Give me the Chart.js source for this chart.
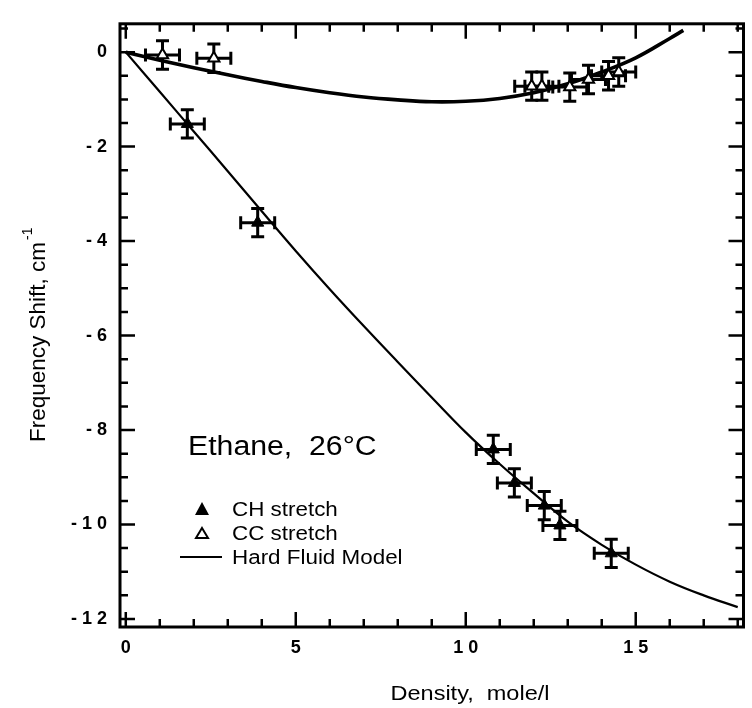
<!DOCTYPE html>
<html>
<head>
<meta charset="utf-8">
<script src="https://cdn.jsdelivr.net/npm/chart.js@4.4.7/dist/chart.umd.min.js"></script>
<style>
  html, body { margin: 0; padding: 0; background: #fff; }
  #wrap { width: 752px; height: 708px; }
</style>
</head>
<body>
<div id="wrap"><canvas id="chart" width="752" height="708"></canvas></div>
<script>
// ---- values ----
// CH stretch (filled triangles)
const chDensity = [1.81, 3.88, 10.81, 11.43, 12.31, 12.77, 14.28];
const chShift = [-1.52, -3.61, -8.41, -9.12, -9.60, -10.02, -10.61];
const chDensityErr = [0.5, 0.5, 0.5, 0.5, 0.5, 0.5, 0.5];
const chShiftErr = [0.3, 0.3, 0.3, 0.3, 0.3, 0.3, 0.3];

// CC stretch (open triangles)
const ccDensity = [1.08, 2.59, 11.94, 12.24, 13.06, 13.61, 14.2, 14.5];
const ccShift = [-0.06, -0.13, -0.72, -0.72, -0.74, -0.58, -0.5, -0.42];
const ccDensityErr = [0.5, 0.5, 0.5, 0.5, 0.5, 0.5, 0.5, 0.5];
const ccShiftErr = [0.3, 0.3, 0.3, 0.3, 0.3, 0.3, 0.3, 0.3];

// Hard fluid model curves
const chModelDensity = [0, 1, 2, 3, 4, 5, 6, 7, 8, 9, 10, 11, 12, 13, 14, 15, 16, 17, 18];
const chModelShift = [0, -0.84, -1.68, -2.52, -3.37, -4.21, -5.02, -5.80, -6.56, -7.31, -8.05, -8.72, -9.34, -9.94, -10.43, -10.85, -11.21, -11.50, -11.75];
const ccModelDensity = [0, 1, 2, 3, 4, 5, 6, 7, 8, 9, 10, 11, 12, 13, 14, 15, 16, 16.4];
const ccModelShift = [0, -0.17, -0.33, -0.48, -0.62, -0.75, -0.86, -0.95, -1.01, -1.05, -1.04, -0.98, -0.86, -0.67, -0.42, -0.12, 0.29, 0.46];

// axes
const xTicks = [0, 5, 10, 15];
const yTicks = [0, -2, -4, -6, -8, -10, -12];
const xRange = [-0.17, 18.17];
const yRange = [-12.17, 0.6];

const FONT = "'Liberation Sans', Arial, Helvetica, sans-serif";
const STRETCH = 1.12;

function toPoints(xs, ys) {
  return xs.map((v, i) => ({ x: v, y: ys[i] }));
}

function spaced(v) {
  // the figure prints "1 0", "- 1 2" etc.
  const s = String(Math.abs(v)).split('').join(' ');
  return v < 0 ? '- ' + s : s;
}

function drawText(ctx, text, x, y, font, align) {
  ctx.save();
  ctx.font = font;
  ctx.textAlign = align || 'left';
  ctx.textBaseline = 'alphabetic';
  ctx.translate(x, y);
  ctx.scale(STRETCH, 1);
  ctx.fillText(text, 0, 0);
  ctx.restore();
}

// box with inward ticks on all four sides
const framePlugin = {
  id: 'frame',
  beforeDatasetsDraw(chart) {
    const { ctx, chartArea: a, scales: { x, y } } = chart;
    ctx.save();
    ctx.strokeStyle = '#000';
    ctx.lineWidth = 2.5;
    ctx.beginPath();
    for (let v = 0; v <= 18; v += 1) {
      const px = x.getPixelForValue(v);
      const len = v % 5 === 0 ? 15 : 8;
      ctx.moveTo(px, a.bottom); ctx.lineTo(px, a.bottom - len);
      ctx.moveTo(px, a.top); ctx.lineTo(px, a.top + len);
    }
    for (let v = -12; v <= 0.5; v += 0.5) {
      const py = y.getPixelForValue(v);
      const len = v % 2 === 0 ? 15 : 8;
      ctx.moveTo(a.left, py); ctx.lineTo(a.left + len, py);
      ctx.moveTo(a.right, py); ctx.lineTo(a.right - len, py);
    }
    ctx.stroke();
    ctx.lineWidth = 3;
    ctx.strokeRect(a.left, a.top, a.right - a.left, a.bottom - a.top);
    ctx.restore();
  },
};

// error bars with caps, drawn under the markers
const errorBarPlugin = {
  id: 'errorBars',
  beforeDatasetsDraw(chart) {
    const { ctx, scales: { x, y } } = chart;
    const cap = 6.5;
    ctx.save();
    ctx.strokeStyle = '#000';
    ctx.lineWidth = 3;
    chart.data.datasets.forEach((ds) => {
      if (!ds.xErr) return;
      ds.data.forEach((p, i) => {
        const cx = x.getPixelForValue(p.x);
        const cy = y.getPixelForValue(p.y);
        const x0 = x.getPixelForValue(p.x - ds.xErr[i]);
        const x1 = x.getPixelForValue(p.x + ds.xErr[i]);
        const y0 = y.getPixelForValue(p.y - ds.yErr[i]);
        const y1 = y.getPixelForValue(p.y + ds.yErr[i]);
        ctx.beginPath();
        ctx.moveTo(x0, cy); ctx.lineTo(x1, cy);
        ctx.moveTo(cx, y0); ctx.lineTo(cx, y1);
        ctx.moveTo(x0, cy - cap); ctx.lineTo(x0, cy + cap);
        ctx.moveTo(x1, cy - cap); ctx.lineTo(x1, cy + cap);
        ctx.moveTo(cx - cap, y0); ctx.lineTo(cx + cap, y0);
        ctx.moveTo(cx - cap, y1); ctx.lineTo(cx + cap, y1);
        ctx.stroke();
      });
    });
    ctx.restore();
  },
};

// axis titles, annotation and the hand-placed legend
const labelsPlugin = {
  id: 'labels',
  afterDraw(chart) {
    const { ctx } = chart;
    ctx.save();
    ctx.fillStyle = '#000';

    drawText(ctx, 'Density,  mole/l', 470, 700, '21px ' + FONT, 'center');

    // rotated y title with superscript
    ctx.save();
    ctx.translate(45, 342);
    ctx.rotate(-Math.PI / 2);
    ctx.font = '22.5px ' + FONT;
    ctx.textAlign = 'center';
    ctx.textBaseline = 'alphabetic';
    ctx.fillText('Frequency Shift, cm', 0, 0);
    const w = ctx.measureText('Frequency Shift, cm').width;
    ctx.font = '14px ' + FONT;
    ctx.textAlign = 'left';
    ctx.fillText('-1', w / 2 + 2, -13);
    ctx.restore();

    drawText(ctx, 'Ethane,  26\u00B0C', 188, 455, '27px ' + FONT, 'left');

    // legend
    const legendFont = '20px ' + FONT;
    drawText(ctx, 'CH stretch', 232, 516, legendFont, 'left');
    drawText(ctx, 'CC stretch', 232, 540, legendFont, 'left');
    drawText(ctx, 'Hard Fluid Model', 232, 564, legendFont, 'left');

    ctx.beginPath();
    ctx.moveTo(202, 502); ctx.lineTo(209, 515); ctx.lineTo(195, 515); ctx.closePath();
    ctx.fill();

    ctx.lineWidth = 2;
    ctx.beginPath();
    ctx.moveTo(202, 528); ctx.lineTo(208, 538); ctx.lineTo(196, 538); ctx.closePath();
    ctx.stroke();

    ctx.lineWidth = 2;
    ctx.beginPath();
    ctx.moveTo(180, 557); ctx.lineTo(222, 557);
    ctx.stroke();

    ctx.restore();
  },
};

Chart.defaults.font.family = FONT;
Chart.defaults.color = '#000';

new Chart(document.getElementById('chart'), {
  type: 'scatter',
  data: {
    datasets: [
      {
        label: 'CH stretch',
        data: toPoints(chDensity, chShift),
        xErr: chDensityErr,
        yErr: chShiftErr,
        pointStyle: 'triangle',
        pointRadius: 7,
        backgroundColor: '#000',
        borderColor: '#000',
        borderWidth: 1,
      },
      {
        label: 'CC stretch',
        data: toPoints(ccDensity, ccShift),
        xErr: ccDensityErr,
        yErr: ccShiftErr,
        pointStyle: 'triangle',
        pointRadius: 6.5,
        backgroundColor: '#fff',
        borderColor: '#000',
        borderWidth: 2,
      },
      {
        label: 'Hard Fluid Model (CH)',
        data: toPoints(chModelDensity, chModelShift),
        showLine: true,
        pointRadius: 0,
        borderColor: '#000',
        borderWidth: 2.2,
        tension: 0.4,
      },
      {
        label: 'Hard Fluid Model (CC)',
        data: toPoints(ccModelDensity, ccModelShift),
        showLine: true,
        pointRadius: 0,
        borderColor: '#000',
        borderWidth: 3.6,
        tension: 0.4,
      },
    ],
  },
  options: {
    responsive: false,
    animation: false,
    layout: { padding: { top: 15, right: 1, left: 0, bottom: 0 } },
    plugins: {
      legend: { display: false },
      tooltip: { enabled: false },
    },
    scales: {
      x: {
        type: 'linear',
        min: xRange[0],
        max: xRange[1],
        afterBuildTicks: (s) => { s.ticks = xTicks.map((v) => ({ value: v })); },
        afterFit: (s) => { s.height = 81; },
        ticks: {
          callback: (v) => spaced(v),
          font: { size: 18, weight: 'bold' },
          padding: 10,
          maxRotation: 0,
          autoSkip: false,
        },
        grid: { display: false, drawTicks: false },
        border: { display: false },
      },
      y: {
        type: 'linear',
        min: yRange[0],
        max: yRange[1],
        afterBuildTicks: (s) => { s.ticks = yTicks.map((v) => ({ value: v })); },
        afterFit: (s) => { s.width = 120; },
        ticks: {
          callback: (v) => spaced(v),
          font: { size: 18, weight: 'bold' },
          padding: 13,
          autoSkip: false,
        },
        grid: { display: false, drawTicks: false },
        border: { display: false },
      },
    },
  },
  plugins: [framePlugin, errorBarPlugin, labelsPlugin],
});
</script>
</body>
</html>
